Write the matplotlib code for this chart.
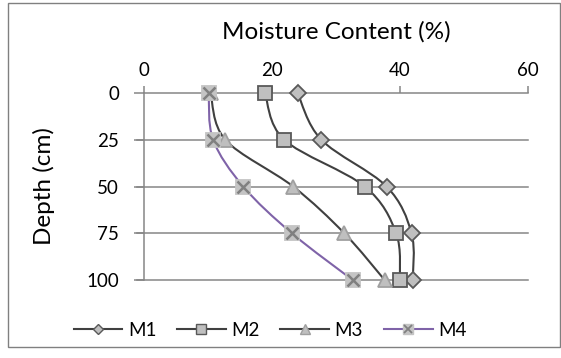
import matplotlib.pyplot as plt
from matplotlib.lines import Line2D
from matplotlib.path import Path
from matplotlib.patches import PathPatch, Rectangle

plt.rcParams['font.family'] = ['Lato', 'DejaVu Sans']

depth = [0, 25, 50, 75, 100]
m1 = [24.0, 27.7, 37.9, 41.8, 42.0]
m2 = [18.9, 21.9, 34.5, 39.4, 40.0]
m3 = [10.4, 12.7, 23.3, 31.3, 37.6]
m4 = [10.1, 10.8, 15.5, 23.1, 32.6]
names = ['M1', 'M2', 'M3', 'M4']
xticks = [0, 20, 40, 60]

grid_c = '#868686'
dark = '#404040'
fill = '#BFBFBF'
purple = '#7F63A8'


def smooth_path(xs, ys):
    # bezier curve through the points (catmull-rom style handles)
    pts = list(zip(xs, ys))
    n = len(pts)
    verts = [pts[0]]
    codes = [Path.MOVETO]
    for i in range(n - 1):
        p0 = pts[i - 1] if i > 0 else pts[i]
        p1 = pts[i]
        p2 = pts[i + 1]
        p3 = pts[i + 2] if i + 2 < n else pts[i + 1]
        c1 = (p1[0] + (p2[0] - p0[0]) / 6, p1[1] + (p2[1] - p0[1]) / 6)
        c2 = (p2[0] - (p3[0] - p1[0]) / 6, p2[1] - (p3[1] - p1[1]) / 6)
        verts += [c1, c2, p2]
        codes += [Path.CURVE4] * 3
    return Path(verts, codes)


fig = plt.figure(figsize=(5.61, 3.58), dpi=100)
fig.patches.append(Rectangle((8 / 561, 11 / 358), 552 / 561, 344 / 358,
                             transform=fig.transFigure, fill=False,
                             edgecolor='#808080', lw=1.0))

ax = fig.add_axes([144 / 561, 1 - 280 / 358, 384 / 561, 187 / 358])
ax.set_xlim(0, 60)
ax.set_ylim(100, 0)

for y in depth[1:]:
    ax.plot([-1.1, 60], [y, y], color=grid_c, lw=1.1, clip_on=False, zorder=1)

series = [
    (m1, dark, dict(marker='D', markersize=8, markerfacecolor=fill, markeredgecolor='#595959')),
    (m2, dark, dict(marker='s', markersize=9.5, markerfacecolor=fill, markeredgecolor='#595959')),
    (m3, dark, dict(marker='^', markersize=10, markerfacecolor=fill, markeredgecolor='#A0A0A0')),
    (m4, purple, dict(marker='s', markersize=9.5, markerfacecolor='#C4C4C4', markeredgecolor='#C4C4C4')),
]

for vals, col, mk in series:
    ax.add_patch(PathPatch(smooth_path(vals, depth), fill=False, edgecolor=col,
                           lw=1.5, clip_on=False, zorder=3))
for vals, col, mk in series:
    ax.plot(vals, depth, linestyle='none', clip_on=False, zorder=4, markeredgewidth=1.3, **mk)
ax.plot(m4, depth, linestyle='none', marker='x', markersize=9, markeredgewidth=1.8,
        color='#808080', clip_on=False, zorder=5)

ax.spines['right'].set_visible(False)
ax.spines['bottom'].set_visible(False)
for s in ['top', 'left']:
    ax.spines[s].set_color(grid_c)
    ax.spines[s].set_linewidth(1.1)

ax.xaxis.tick_top()
ax.set_xticks(xticks)
ax.set_yticks(depth)
ax.tick_params(axis='x', direction='out', length=5, width=1.1, color=grid_c,
               labelsize=13.5, pad=5, labelcolor='black')
ax.tick_params(axis='y', direction='out', length=7, width=1.1, color=grid_c,
               labelsize=13.5, pad=11, labelcolor='black')

fig.text(336 / 561, 1 - 32 / 358, 'Moisture Content (%)', ha='center', va='center', fontsize=17.5)
fig.text(44 / 561, 1 - 186 / 358, 'Depth (cm)', ha='center', va='center', rotation=90, fontsize=17.5)

handles = [
    Line2D([], [], color=dark, lw=1.5, marker='D', markersize=5.5, markerfacecolor=fill, markeredgecolor='#595959'),
    Line2D([], [], color=dark, lw=1.5, marker='s', markersize=6.5, markerfacecolor=fill, markeredgecolor='#595959'),
    Line2D([], [], color=dark, lw=1.5, marker='^', markersize=7, markerfacecolor=fill, markeredgecolor='#A0A0A0'),
    (Line2D([], [], color=purple, lw=1.5, marker='s', markersize=6.5, markerfacecolor='#C4C4C4', markeredgecolor='#C4C4C4'),
     Line2D([], [], linestyle='none', marker='x', markersize=6, markeredgewidth=1.3, color='#808080')),
]
fig.legend(handles, names, loc='center', bbox_to_anchor=(270 / 561, 1 - 330 / 358), ncol=4,
           frameon=False, fontsize=13.5, handlelength=2.6, handletextpad=0.3, columnspacing=1.1)

fig.savefig('out.png', dpi=100)
